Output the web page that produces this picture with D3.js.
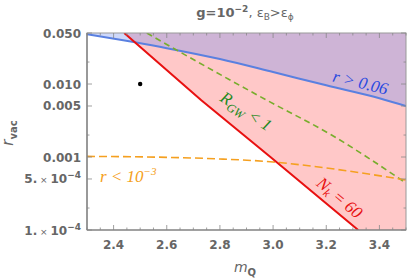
<!DOCTYPE html>
<html>
<head>
<meta charset="utf-8">
<script src="https://cdn.jsdelivr.net/npm/d3@7"></script>
<style>
  body { margin: 0; background: #fff; }
  svg { display: block; }
  .tick-label { font-family: "DejaVu Sans", sans-serif; font-weight: bold; font-size: 12px; fill: #666; }
  .curve-label { font-family: "Liberation Serif", "DejaVu Serif", serif; font-style: italic; font-size: 17px; }
</style>
</head>
<body>
<div id="chart"></div>
<script>
// data
var xTicks = [2.4, 2.6, 2.8, 3.0, 3.2, 3.4];
var yTicks = [0.05, 0.01, 0.005, 0.001, 0.0005, 0.0001];
var yMinorTicks = [0.02, 0.002, 0.0002];

// r > 0.06 boundary (blue)
var blueM = [2.3, 2.6, 2.8, 3.0, 3.2, 3.4, 3.5];
var blueR = [0.048, 0.031, 0.022, 0.0146, 0.0096, 0.0064, 0.005];

// N_k = 60 (red)
var redM = [2.44, 2.73, 2.99, 3.32];
var redR = [0.05, 0.006, 0.001, 0.0001];

// R_GW < 1 (green dashed)
var greenM = [2.525, 2.63, 2.975, 3.22, 3.5];
var greenR = [0.05, 0.0302, 0.00604, 0.0020, 0.00044];

// r < 1e-3 (orange dashed)
var orangeM = [2.3, 2.6, 2.8, 3.0, 3.2, 3.5];
var orangeR = [0.00102, 0.00099, 0.00094, 0.000855, 0.000707, 0.000484];

// benchmark point
var pointM = [2.5];
var pointR = [0.01];

var width = 407, height = 280;
var margins = {left: 87, right: 1, top: 33, bottom: 50};

var xScale = d3.scaleLinear().domain([2.3, 3.5]).range([margins.left, width - margins.right]);
var yScale = d3.scaleLog().domain([0.0001, 0.05]).range([height - margins.bottom, margins.top]);

var svg = d3.select('#chart').append('svg')
    .attr('width', width)
    .attr('height', height);

function zip(ms, rs) { return ms.map(function (m, i) { return [m, rs[i]]; }); }

var line = d3.line()
    .x(function (d) { return xScale(d[0]); })
    .y(function (d) { return yScale(d[1]); })
    .curve(d3.curveMonotoneX);

svg.append('clipPath').attr('id', 'plot-clip')
  .append('rect')
    .attr('x', margins.left).attr('y', margins.top)
    .attr('width', width - margins.left - margins.right)
    .attr('height', height - margins.top - margins.bottom);

var plot = svg.append('g').attr('clip-path', 'url(#plot-clip)');

// pink region: right of the red line
var redPts = zip(redM, redR);
var pinkPoly = redPts.map(function (d) { return [xScale(d[0]), yScale(d[1])]; });
pinkPoly.push([xScale(3.5) + 2, yScale(0.0001)]);
pinkPoly.push([xScale(3.5) + 2, yScale(0.05)]);
plot.append('path')
    .attr('d', 'M' + pinkPoly.join('L') + 'Z')
    .attr('fill', '#ffc8c8');

// blue region: above the blue line
var bluePts = zip(blueM, blueR);
var blueArea = d3.area()
    .x(function (d) { return xScale(d[0]); })
    .y0(yScale(0.05) - 2)
    .y1(function (d) { return yScale(d[1]); })
    .curve(d3.curveMonotoneX);
plot.append('path')
    .attr('d', blueArea(bluePts))
    .attr('fill', 'rgb(115,143,240)')
    .attr('fill-opacity', 0.35);

// curves
plot.append('path')
    .attr('d', line(bluePts))
    .attr('fill', 'none').attr('stroke', '#5a80e0').attr('stroke-width', 2);

plot.append('path')
    .attr('d', line(zip(greenM, greenR)))
    .attr('fill', 'none').attr('stroke', '#78ad2c').attr('stroke-width', 1.6)
    .attr('stroke-dasharray', '6,4');

plot.append('path')
    .attr('d', line(zip(orangeM, orangeR)))
    .attr('fill', 'none').attr('stroke', '#f5a020').attr('stroke-width', 1.6)
    .attr('stroke-dasharray', '8,4');

plot.append('path')
    .attr('d', d3.line()
        .x(function (d) { return xScale(d[0]); })
        .y(function (d) { return yScale(d[1]); })(redPts))
    .attr('fill', 'none').attr('stroke', '#e81010').attr('stroke-width', 2);

plot.selectAll('circle.pt')
    .data(zip(pointM, pointR))
    .enter().append('circle')
    .attr('class', 'pt')
    .attr('cx', function (d) { return xScale(d[0]); })
    .attr('cy', function (d) { return yScale(d[1]); })
    .attr('r', 2.2)
    .attr('fill', '#000');

// curve labels
function label(x, y, angle, color) {
    return svg.append('text')
        .attr('class', 'curve-label')
        .attr('text-anchor', 'middle')
        .attr('transform', 'translate(' + x + ',' + y + ') rotate(' + angle + ')')
        .attr('fill', color);
}
label(359, 88, 14, '#2848e0').text('r > 0.06');

var lg = label(243, 116, 33, '#1e8a1e');
lg.append('tspan').text('R');
lg.append('tspan').attr('font-size', '12px').attr('dy', 4).text('GW');
lg.append('tspan').attr('dy', -4).text(' < 1');

var ln = label(336, 202, 40, '#e81010');
ln.append('tspan').text('N');
ln.append('tspan').attr('font-size', '12px').attr('dy', 3).text('k');
ln.append('tspan').attr('dy', -3).text(' = 60');

var lo = svg.append('text')
    .attr('class', 'curve-label')
    .attr('x', 100).attr('y', 182)
    .attr('fill', '#f5a020');
lo.append('tspan').text('r < 10');
lo.append('tspan').attr('font-size', '11px').attr('dy', -7).text('\u22123');

// frame
var x0 = xScale.range()[0], x1 = xScale.range()[1];
var y0 = yScale.range()[0], y1 = yScale.range()[1];
svg.append('rect')
    .attr('x', x0).attr('y', y1)
    .attr('width', x1 - x0).attr('height', y0 - y1)
    .attr('fill', 'none').attr('stroke', '#999').attr('stroke-width', 1);
svg.append('line').attr('x1', x0).attr('x2', x0).attr('y1', y1).attr('y2', y0)
    .attr('stroke', '#777').attr('stroke-width', 1.2);
svg.append('line').attr('x1', x0).attr('x2', x1).attr('y1', y0).attr('y2', y0)
    .attr('stroke', '#777').attr('stroke-width', 1.2);

// x ticks (inside, bottom and top)
var xMinor = d3.range(2.3, 3.5001, 0.05);
var ticks = svg.append('g').attr('stroke', '#888').attr('stroke-width', 0.8);
xMinor.forEach(function (v) {
    var major = xTicks.some(function (t) { return Math.abs(t - v) < 1e-6; });
    var len = major ? 5 : 2.5;
    ticks.append('line').attr('x1', xScale(v)).attr('x2', xScale(v)).attr('y1', y0).attr('y2', y0 - len);
    ticks.append('line').attr('x1', xScale(v)).attr('x2', xScale(v)).attr('y1', y1).attr('y2', y1 + len);
});
yTicks.forEach(function (v) {
    ticks.append('line').attr('x1', x0).attr('x2', x0 + 5).attr('y1', yScale(v)).attr('y2', yScale(v));
    ticks.append('line').attr('x1', x1).attr('x2', x1 - 5).attr('y1', yScale(v)).attr('y2', yScale(v));
});
yMinorTicks.forEach(function (v) {
    ticks.append('line').attr('x1', x0).attr('x2', x0 + 2.5).attr('y1', yScale(v)).attr('y2', yScale(v));
    ticks.append('line').attr('x1', x1).attr('x2', x1 - 2.5).attr('y1', yScale(v)).attr('y2', yScale(v));
});

// x tick labels
svg.selectAll('text.xt')
    .data(xTicks)
    .enter().append('text')
    .attr('class', 'tick-label xt')
    .attr('x', function (d) { return xScale(d); })
    .attr('y', 249)
    .attr('text-anchor', 'middle')
    .text(function (d) { return d.toFixed(1); });

// y tick labels
yTicks.forEach(function (v) {
    var t = svg.append('text')
        .attr('class', 'tick-label')
        .attr('x', 81)
        .attr('y', yScale(v) + 4.5)
        .attr('text-anchor', 'end');
    if (v >= 0.001) {
        t.text(v === 0.05 ? '0.050' : v.toFixed(3));
    } else {
        var mant = v === 0.0005 ? '5.' : '1.';
        t.append('tspan').text(mant);
        t.append('tspan').attr('font-size', '9px').attr('font-weight', 'normal').text(' \u00d7 ');
        t.append('tspan').text('10');
        t.append('tspan').attr('font-size', '9px').attr('dy', -5).text('\u22124');
    }
});

// title
var title = svg.append('text')
    .attr('x', 245).attr('y', 17)
    .attr('text-anchor', 'middle')
    .attr('font-family', 'DejaVu Sans, sans-serif')
    .attr('font-weight', 'bold')
    .attr('font-size', '13px')
    .attr('fill', '#666');
title.append('tspan').text('g=10');
title.append('tspan').attr('font-size', '9px').attr('dy', -5).text('\u22122');
title.append('tspan').attr('dy', 5).attr('font-weight', 'normal').text(', \u03b5');
title.append('tspan').attr('font-size', '9px').attr('font-weight', 'normal').attr('dy', 3).text('B');
title.append('tspan').attr('font-weight', 'normal').attr('dy', -3).text('>\u03b5');
title.append('tspan').attr('font-size', '9px').attr('font-weight', 'normal').attr('dy', 3).text('\u03d5');

// axis labels
var xl = svg.append('text')
    .attr('x', 245).attr('y', 272)
    .attr('text-anchor', 'middle')
    .attr('font-family', 'DejaVu Sans, sans-serif')
    .attr('font-size', '14px')
    .attr('fill', '#666');
xl.append('tspan').attr('font-style', 'italic').text('m');
xl.append('tspan').attr('font-size', '10px').attr('font-weight', 'bold').attr('dy', 4).text('Q');

var yl = svg.append('text')
    .attr('transform', 'translate(13,133) rotate(-90)')
    .attr('text-anchor', 'middle')
    .attr('font-family', 'DejaVu Sans, sans-serif')
    .attr('font-size', '15px')
    .attr('fill', '#666');
yl.append('tspan').attr('font-style', 'italic').text('r');
yl.append('tspan').attr('font-size', '10px').attr('font-weight', 'bold').attr('dy', 4).text('vac');
</script>
</body>
</html>
